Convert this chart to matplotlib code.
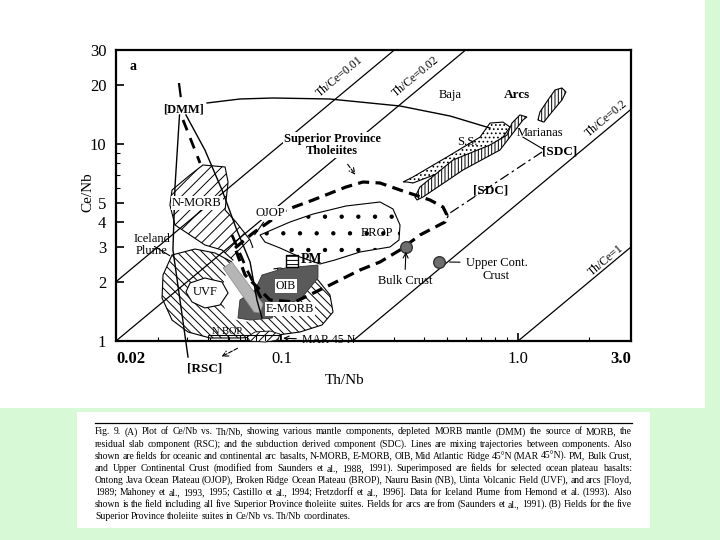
import numpy as np
import matplotlib
matplotlib.use("Agg")
import matplotlib.pyplot as plt
from matplotlib.patches import Rectangle
from matplotlib.lines import Line2D
from matplotlib.ticker import FixedLocator, NullFormatter

plt.rcParams["font.family"] = ["Liberation Serif", "DejaVu Serif"]
plt.rcParams["hatch.linewidth"] = 0.7

# --- axis ticks ---
x_ticks = [0.02, 0.1, 1.0, 3.0]
x_tick_labels = ["0.02", "0.1", "1.0", "3.0"]
y_ticks = [1, 2, 3, 4, 5, 10, 20, 30]
y_tick_labels = ["1", "2", "3", "4", "5", "10", "20", "30"]
y_minor = [6, 7, 8, 9]

# --- Th/Ce reference lines ---
th_ce_ratios = [0.01, 0.02, 0.2, 1.0]
th_ce_labels = ["Th/Ce=0.01", "Th/Ce=0.02", "Th/Ce=0.2", "Th/Ce=1"]
th_ce_label_x = [0.177, 0.370, 2.35, 2.35]
th_ce_label_y = [22.1, 21.9, 13.5, 2.58]

# --- fields (Th/Nb, Ce/Nb) ---
big_x = [0.0345, 0.0431, 0.0524, 0.0618, 0.0751, 0.0986, 0.1198, 0.1427, 0.1604,
         0.1652, 0.1484, 0.1198, 0.0895, 0.0668, 0.0499, 0.0403, 0.0345, 0.0313, 0.0316]
big_y = [2.733, 2.93, 2.797, 2.518, 2.24, 2.347, 2.24, 2.04, 1.712,
         1.403, 1.206, 1.111, 1.06, 1.036, 1.036, 1.111, 1.278, 1.653, 2.163]

brop_x = [0.0812, 0.1087, 0.136, 0.1874, 0.2609, 0.296, 0.317, 0.3139, 0.2876,
          0.2148, 0.1684, 0.1455, 0.1198, 0.0986, 0.0852]
brop_y = [3.452, 4.018, 4.41, 4.845, 5.077, 4.68, 3.88, 3.256, 3.001,
          2.83, 2.578, 2.46, 2.668, 2.966, 3.18]

ojop_x = [0.0595, 0.0702, 0.0828, 0.0912, 0.0939, 0.0869, 0.0828, 0.0702, 0.0595, 0.0561, 0.0572]
ojop_y = [2.431, 2.897, 3.071, 2.638, 2.04, 1.615, 1.308, 1.249, 1.308, 1.615, 1.993]

nmorb_x = [0.0466, 0.0578, 0.0595, 0.0578, 0.0643, 0.0737, 0.0788, 0.0737,
           0.0637, 0.0561, 0.0475, 0.0411, 0.0355, 0.0338, 0.0345, 0.0411]
nmorb_y = [7.823, 7.643, 6.414, 4.624, 4.018, 3.256, 2.638, 2.347,
           2.518, 2.897, 3.071, 3.452, 3.88, 4.902, 5.842, 6.961]

uvf_x = [0.0411, 0.0475, 0.0561, 0.0595, 0.055, 0.0475, 0.0419, 0.0395]
uvf_y = [1.97, 2.088, 1.993, 1.753, 1.523, 1.471, 1.578, 1.773]

oib_x = [0.0828, 0.1035, 0.1427, 0.1427, 0.1198, 0.0986, 0.0912, 0.0737, 0.0655, 0.0668, 0.0773]
oib_y = [2.163, 2.347, 2.431, 2.088, 1.615, 1.523, 1.308, 1.278, 1.308, 1.615, 1.815]

stick_x = [0.0567, 0.0618, 0.0836, 0.0812, 0.0766]
stick_y = [2.347, 2.518, 1.541, 1.387, 1.403]

mar_x = [0.0716, 0.0773, 0.0895, 0.0986, 0.0967, 0.0852, 0.0737]
mar_y = [1.048, 1.111, 1.124, 1.085, 1.012, 0.988, 1.0]

nbop_x = [0.049, 0.0595, 0.0668, 0.0716, 0.0781, 0.0852, 0.0986]

ss_x = [0.3392, 0.3596, 0.5006, 0.6902, 0.8632, 0.924, 0.8632, 0.7608, 0.6902, 0.5006, 0.3596, 0.3264]
ss_y = [6.414, 6.339, 7.379, 8.99, 10.83, 12.19, 12.92, 12.77, 10.83, 8.588, 6.8, 6.414]

mar_arc_x = [0.374, 0.3964, 0.585, 0.8384, 0.951, 1.049, 1.09, 1.018, 0.942, 0.8974, 0.7608, 0.5308, 0.385, 0.3668]
mar_arc_y = [5.196, 5.38, 7.379, 9.322, 11.35, 13.24, 13.71, 14.04, 12.77, 11.09, 9.883, 8.293, 6.048, 5.38]

arcs_x = [1.213, 1.286, 1.39, 1.532, 1.593, 1.532, 1.432, 1.337, 1.237]
arcs_y = [13.24, 12.92, 14.54, 16.72, 18.37, 19.25, 18.8, 16.72, 14.54]

sp_x = [0.0637, 0.0759, 0.1045, 0.136, 0.1874, 0.2212, 0.2609, 0.317, 0.4244, 0.4816,
        0.5006, 0.491, 0.385, 0.317, 0.2609, 0.2148, 0.1604, 0.1141, 0.0895, 0.0702, 0.0637]
sp_y = [2.966, 3.533, 4.624, 5.196, 6.048, 6.414, 6.339, 5.842, 5.196, 4.789,
        4.361, 4.018, 3.452, 2.897, 2.518, 2.293, 1.925, 1.578, 1.615, 2.163, 2.966]

# --- mixing lines ---
dmm_arc_x = [0.0485, 0.0668, 0.0921, 0.160, 0.317, 0.516, 0.761]
dmm_arc_y = [16.15, 16.92, 17.12, 16.92, 15.59, 13.87, 12.05]
dmm_rsc_x = [0.0371, 0.0355, 0.0348, 0.0403]
dmm_rsc_y = [14.04, 6.048, 2.90, 0.829]
dmm_right_x = [0.0395, 0.0475, 0.0561, 0.0643, 0.0737, 0.0788, 0.0828]
dmm_right_y = [14.04, 9.322, 5.842, 3.746, 2.518, 1.615, 1.308]
dmm_top_x = [0.0369, 0.0377]
dmm_top_y = [20.39, 16.72]
dmm_dash_x = [0.0384, 0.0453]
dmm_dash_y = [13.24, 8.007]
nmorb_dash_x = [0.0618, 0.0716, 0.0828]
nmorb_dash_y = [3.45, 2.293, 1.615]
sdc_x = [1.262, 0.5156, 0.5006]
sdc_y = [9.107, 4.464, 4.21]

# --- points ---
pm_xy = (0.1109, 2.548)
bulk_xy = (0.336, 3.001)
ucc_xy = (0.4632, 2.518)

caption_lines = [
    "Fig. 9. (A) Plot of Ce/Nb vs. Th/Nb, showing various mantle components, depleted MORB mantle (DMM) the source of MORB, the",
    "residual slab component (RSC); and the subduction derived component (SDC). Lines are mixing trajectories between components. Also",
    "shown are fields for oceanic and continental arc basalts, N-MORB, E-MORB, OIB, Mid Atlantic Ridge 45\u00b0N (MAR 45\u00b0N). PM, Bulk Crust,",
    "and Upper Continental Crust (modified from Saunders et al., 1988, 1991). Superimposed are fields for selected ocean plateau basalts:",
    "Ontong Java Ocean Plateau (OJOP), Broken Ridge Ocean Plateau (BROP), Nauru Basin (NB), Uinta Volcanic Field (UVF), and arcs [Floyd,",
    "1989; Mahoney et al., 1993, 1995; Castillo et al., 1994; Fretzdorff et al., 1996]. Data for Iceland Plume from Hemond et al. (1993). Also",
    "shown is the field including all five Superior Province tholeiite suites. Fields for arcs are from (Saunders et al., 1991). (B) Fields for the five",
    "Superior Province tholeiite suites in Ce/Nb vs. Th/Nb coordinates.",
]

fig = plt.figure(figsize=(7.2, 5.4), dpi=100, facecolor="#d7f9d5")
fig.patches.append(Rectangle((0, 1 - 408 / 540), 705 / 720, 408 / 540, transform=fig.transFigure,
                             facecolor="white", edgecolor="none", zorder=-5))
fig.patches.append(Rectangle((77 / 720, 1 - 528 / 540), 573 / 720, 116 / 540, transform=fig.transFigure,
                             facecolor="white", edgecolor="none", zorder=-5))

ax = fig.add_axes([116 / 720, 1 - 341 / 540, 515 / 720, 291 / 540])
ax.set_xscale("log")
ax.set_yscale("log")
ax.set_xlim(0.02, 3.0)
ax.set_ylim(1, 30)

# Th/Ce lines
xs = np.array([0.02, 3.0])
p = ax.transData.transform([(0.1, 1.0), (1.0, 10.0)])
ang = np.degrees(np.arctan2(p[1, 1] - p[0, 1], p[1, 0] - p[0, 0]))
for r, lab, lx, ly in zip(th_ce_ratios, th_ce_labels, th_ce_label_x, th_ce_label_y):
    ax.plot(xs, xs / r, color="black", lw=0.9, zorder=4)
    ax.text(lx, ly, lab, rotation=ang, ha="center", va="center", fontsize=8.5,
            rotation_mode="anchor", zorder=6)

# fields
ax.fill(brop_x, brop_y, facecolor="white", edgecolor="black", hatch=".", lw=0.8, zorder=1)
ax.fill(big_x, big_y, facecolor="white", edgecolor="black", hatch="\\\\\\\\", lw=0.8, zorder=2)
ax.fill(nmorb_x, nmorb_y, facecolor="white", edgecolor="black", hatch="///", lw=0.8, zorder=2)
ax.fill(ojop_x, ojop_y, facecolor="white", edgecolor="none", hatch=".", lw=0.5, zorder=3)
ax.fill(uvf_x, uvf_y, facecolor="white", edgecolor="black", lw=0.8, zorder=3)
ax.fill(oib_x, oib_y, facecolor="#5a5a5a", edgecolor="#333333", lw=0.6, zorder=3)
ax.fill(stick_x, stick_y, facecolor="#b5b5b5", edgecolor="#888888", lw=0.5, zorder=3)
ax.fill(mar_x, mar_y, facecolor="white", edgecolor="black", hatch="////", lw=0.6, zorder=3, clip_on=False)
ax.vlines(nbop_x, 1.0, 1.07, color="black", lw=0.8, zorder=3)
ax.hlines(1.07, nbop_x[0], nbop_x[-1], color="black", lw=0.8, zorder=3)
ax.fill(ss_x, ss_y, facecolor="white", edgecolor="black", hatch="....", lw=0.8, zorder=3)
ax.fill(mar_arc_x, mar_arc_y, facecolor="white", edgecolor="black", hatch="|||||", lw=0.8, zorder=3)
ax.fill(arcs_x, arcs_y, facecolor="white", edgecolor="black", hatch="|||||", lw=0.8, zorder=3)

# mixing lines
ax.plot(sp_x, sp_y, color="black", lw=2.3, ls=(0, (3.5, 2)), zorder=5)
ax.plot(dmm_arc_x, dmm_arc_y, color="black", lw=1.0, zorder=5)
ax.plot(dmm_rsc_x, dmm_rsc_y, color="black", lw=1.0, zorder=5, clip_on=False)
ax.plot(dmm_right_x, dmm_right_y, color="black", lw=1.0, zorder=5)
ax.plot(dmm_top_x, dmm_top_y, color="black", lw=1.6, ls="-.", zorder=5)
ax.plot(dmm_dash_x, dmm_dash_y, color="black", lw=2.0, ls=(0, (4, 3)), zorder=5)
ax.plot(nmorb_dash_x, nmorb_dash_y, color="black", lw=2.0, ls=(0, (4, 3)), zorder=5)
ax.plot(sdc_x, sdc_y, color="black", lw=0.9, ls=(0, (8, 3, 2, 3)), zorder=5)

# points
ax.scatter(*pm_xy, marker="s", s=70, facecolor="white", edgecolor="black", hatch="----", zorder=7)
ax.scatter(*bulk_xy, marker="o", s=70, facecolor="#6e6e6e", edgecolor="#333333", zorder=7)
ax.scatter(*ucc_xy, marker="o", s=70, facecolor="#6e6e6e", edgecolor="#333333", zorder=7)

# labels
wb = dict(facecolor="white", edgecolor="none", pad=0.6)
ax.text(0.026, 0.965, "a", transform=ax.transAxes, fontsize=10, fontweight="bold", va="top")
ax.text(0.0387, 14.88, "[DMM]", fontsize=9, fontweight="bold", ha="center", va="center", zorder=8)
ax.text(0.1636, 9.883, "Superior Province\nTholeiites", fontsize=9, fontweight="bold",
        ha="center", va="center", linespacing=1.1, bbox=wb, zorder=8)
ax.annotate("", xy=(0.2086, 6.80), xytext=(0.1874, 8.10),
            arrowprops=dict(arrowstyle="->", lw=0.8, ls="--"), zorder=8)
ax.text(0.5156, 17.73, "Baja", fontsize=9, ha="center", va="center", zorder=8)
ax.text(0.989, 17.73, "Arcs", fontsize=9.5, fontweight="bold", ha="center", va="center", zorder=8)
ax.text(0.608, 10.23, "S.S.", fontsize=9, ha="center", va="center", zorder=8)
ax.text(1.237, 11.35, "Marianas", fontsize=9, ha="center", va="center", zorder=8)
ax.plot([1.049, 1.274], [10.83, 9.43], color="black", lw=0.8, zorder=8)
ax.text(1.503, 9.11, "[SDC]", fontsize=9.5, fontweight="bold", ha="center", va="center", zorder=8)
ax.text(0.768, 5.774, "[SDC]", fontsize=9.5, fontweight="bold", ha="center", va="center", zorder=8)
ax.text(0.044, 5.018, "N-MORB", fontsize=9, ha="center", va="center", bbox=wb, zorder=8)
ax.annotate("OJOP", xy=(0.0759, 3.37), xytext=(0.0895, 4.464), fontsize=9, ha="center", va="center",
            bbox=wb, arrowprops=dict(arrowstyle="-", lw=0.8), zorder=8)
ax.text(0.2536, 3.533, "BROP", fontsize=9, ha="center", va="center", zorder=8)
ax.annotate("Iceland\nPlume", xy=(0.0345, 2.668), xytext=(0.0284, 3.071), fontsize=9,
            ha="center", va="center", linespacing=1.0,
            arrowprops=dict(arrowstyle="-", lw=0.8), zorder=8)
ax.text(0.0475, 1.773, "UVF", fontsize=9, ha="center", va="center", zorder=8)
ax.text(0.1045, 1.902, "OIB", fontsize=8.5, ha="center", va="center", bbox=wb, zorder=8)
ax.text(0.1087, 1.454, "E-MORB", fontsize=9, ha="center", va="center", bbox=wb, zorder=8)
ax.text(0.1204, 2.60, "PM", fontsize=10, fontweight="bold", ha="left", va="center", zorder=8)
ax.annotate("Bulk Crust", xy=(0.336, 2.93), xytext=(0.332, 2.017), fontsize=9, ha="center",
            va="center", arrowprops=dict(arrowstyle="->", lw=0.8), zorder=8)
ax.annotate("Upper Cont.\nCrust", xy=(0.50, 2.518), xytext=(0.60, 2.30), fontsize=9, ha="left",
            va="center", multialignment="center", linespacing=1.1,
            arrowprops=dict(arrowstyle="-", lw=0.8, relpos=(0, 0.8)), zorder=8)
ax.text(0.0589, 1.111, "N BOP", fontsize=7.5, ha="center", va="center", zorder=8)
ax.annotate("MAR 45 N", xy=(0.099, 1.035), xytext=(0.122, 1.012), fontsize=8.5, ha="left",
            va="center", arrowprops=dict(arrowstyle="->", lw=0.8), zorder=8)
ax.text(0.0475, 0.729, "[RSC]", fontsize=9.5, fontweight="bold", ha="center", va="center")
ax.annotate("", xy=(0.0545, 0.82), xytext=(0.0668, 0.932), annotation_clip=False,
            arrowprops=dict(arrowstyle="->", lw=0.8, ls="--"))

# axes styling
for s in ax.spines.values():
    s.set_linewidth(1.6)
ax.set_xticks(x_ticks)
ax.set_xticklabels(x_tick_labels)
ax.xaxis.set_minor_locator(FixedLocator([0.03, 0.04, 0.05, 0.06, 0.07, 0.08, 0.09,
                                         0.2, 0.3, 0.4, 0.5, 0.6, 0.7, 0.8, 0.9, 2.0]))
ax.xaxis.set_minor_formatter(NullFormatter())
ax.set_yticks(y_ticks)
ax.set_yticklabels(y_tick_labels)
ax.yaxis.set_minor_locator(FixedLocator(y_minor))
ax.yaxis.set_minor_formatter(NullFormatter())
ax.tick_params(which="major", direction="in", length=6, width=1.2, labelsize=12, pad=7)
ax.tick_params(which="minor", direction="in", length=3, width=0.8)
xl = ax.get_xticklabels()
xl[0].set_ha("left")
xl[0].set_fontweight("bold")
xl[-1].set_ha("right")
xl[-1].set_fontweight("bold")

fig.text(345 / 720, 1 - 381 / 540, "Th/Nb", fontsize=11, ha="center", va="center")
fig.text(88 / 720, 1 - 192 / 540, "Ce/Nb", fontsize=11, ha="center", va="center", rotation=90)

# caption, justified word by word
fig.add_artist(Line2D([95 / 720, 632 / 720], [1 - 423 / 540] * 2, transform=fig.transFigure,
                      color="black", lw=0.9))
fig.canvas.draw()
renderer = fig.canvas.get_renderer()
x0, x1 = 95 / 720, 632 / 720
for i, line in enumerate(caption_lines):
    y = 1 - (432 + 12.1 * i) / 540
    words = line.split(" ")
    texts = [fig.text(0, y, w, fontsize=6.9, ha="left", va="center") for w in words]
    widths = [t.get_window_extent(renderer).width / fig.bbox.width for t in texts]
    if i < len(caption_lines) - 1:
        gap = (x1 - x0 - sum(widths)) / (len(words) - 1)
    else:
        gap = 2.2 / 720
    x = x0
    for t, w in zip(texts, widths):
        t.set_x(x)
        x += w + gap

fig.savefig("out.png", dpi=100, facecolor=fig.get_facecolor())
